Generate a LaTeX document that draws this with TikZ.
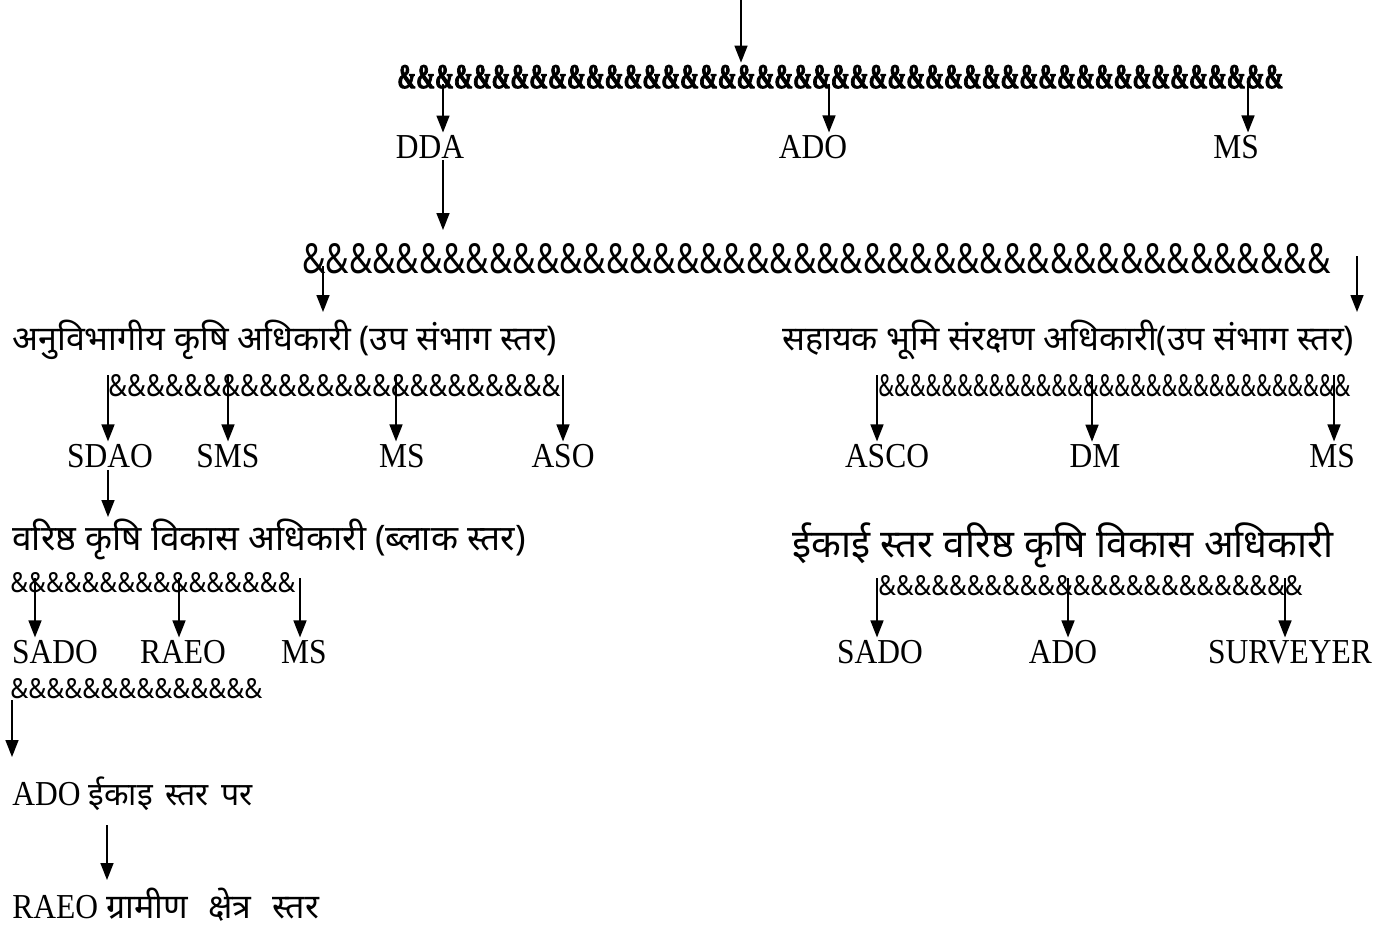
\documentclass[tikz,border=0pt]{standalone}
\usepackage{fontspec}
\usepackage{graphicx}
\setmainfont{Liberation Serif}[FakeStretch=0.9]
\newfontfamily\hindi[Script=Devanagari]{Noto Sans}
\newfontfamily\ampbold{Liberation Serif}[BoldFeatures={FakeBold=3}]
\usetikzlibrary{arrows.meta}
% a row of ampersands squeezed to a given width and height
\newcommand\amprow[4][]{\resizebox{#2}{#3}{#1\foreach\i in {1,...,#4}{\&}}}
\begin{document}
\begin{tikzpicture}[x=0.5pt,y=-0.5pt,line join=round,>={Triangle[length=8.5pt,width=6.5pt]}]
	\tikzset{arr/.style={->,line width=0.75pt},
		lab/.style={inner sep=1pt,anchor=base,font=\fontsize{17.5}{20}\selectfont},
		hin/.style={inner sep=1pt,anchor=base west,font=\fontsize{17}{20}\hindi},
		amp/.style={inner sep=0pt,anchor=base west}}
	\useasboundingbox[fill=white] (0,0) rectangle (1396,928);
	% first level
	\coordinate (top) at (741,0);
	\node[amp] (r1) at (397,88) {\amprow[\ampbold\bfseries]{443pt}{11.5pt}{47}};
	\draw[arr] (top) -- ([yshift=1pt]top |- r1.north);
	\node[lab] (dda) at (430,158) {DDA};
	\node[lab] (ado) at (813,158) {ADO};
	\node[lab] (ms1) at (1236,158) {MS};
	\foreach \x/\n in {443/dda,829/ado,1248/ms1}
	{\coordinate (s\n) at (\x,84); \draw[arr] (s\n) -- (s\n |- \n.north);}
	% second level
	\node[amp] (r2) at (302,273) {\amprow[\hindi]{514pt}{15pt}{44}};
	\coordinate (d1) at (443,230);
	\draw[arr] (dda.south -| d1) -- (d1);
	\node[hin] (sdo) at (10,350) {अनुविभागीय कृषि अधिकारी (उप संभाग स्तर)};
	\node[hin] (sco) at (780,350) {सहायक भूमि संरक्षण अधिकारी(उप संभाग स्तर)};
	\coordinate (e1) at (323,312);
	\coordinate (e2) at (1357,312);
	\draw[arr] (e1 |- 0,266) -- (e1);
	\draw[arr] (e2 |- 0,256) -- (e2);
	% third level
	\node[amp] (r3) at (108,396) {\amprow[\hindi]{226pt}{11pt}{24}};
	\node[amp] (r4) at (878,396) {\amprow[\hindi]{236pt}{11pt}{30}};
	\node[lab] (sdao) at (110,467) {SDAO};
	\node[lab] (sms) at (228,467) {SMS};
	\node[lab] (ms2) at (402,467) {MS};
	\node[lab] (aso) at (563,467) {ASO};
	\node[lab] (asco) at (887,467) {ASCO};
	\node[lab] (dm) at (1095,467) {DM};
	\node[lab] (ms3) at (1332,467) {MS};
	\foreach \x/\n in {108/sdao,228/sms,396/ms2,563/aso,877/asco,1092/dm,1334/ms3}
	{\coordinate (s\n) at (\x,375); \draw[arr] (s\n) -- (s\n |- \n.north);}
	% fourth level
	\coordinate (d2) at (108,517);
	\draw[arr] (sdao.south -| d2) -- (d2);
	\node[hin,font=\fontsize{17.6}{20}\hindi] (sado) at (10,550) {वरिष्ठ कृषि विकास अधिकारी (ब्लाक स्तर)};
	\node[hin,font=\fontsize{19.4}{22}\hindi] (ikai) at (790,557) {ईकाई स्तर वरिष्ठ कृषि विकास अधिकारी};
	\node[amp] (r5) at (10,592) {\amprow[\hindi]{142.5pt}{10pt}{16}};
	\node[amp] (r6) at (878,595) {\amprow[\hindi]{212pt}{10pt}{24}};
	\node[lab] (sado1) at (55,663) {SADO};
	\node[lab] (raeo1) at (183,663) {RAEO};
	\node[lab] (ms4) at (304,663) {MS};
	\node[lab] (sado2) at (880,663) {SADO};
	\node[lab] (ado2) at (1063,663) {ADO};
	\node[lab] (surv) at (1290,663) {SURVEYER};
	\foreach \x/\n in {35/sado1,179/raeo1,300/ms4,877/sado2,1068/ado2,1285/surv}
	{\coordinate (s\n) at (\x,578); \draw[arr] (s\n) -- (s\n |- \n.north);}
	% lowest levels
	\node[amp] (r7) at (10,698) {\amprow[\hindi]{126pt}{10pt}{14}};
	\node[inner sep=1pt,anchor=base west,font=\fontsize{17.5}{20}\selectfont] (adoi) at (10,805) {ADO {\fontsize{16}{20}\hindi ईकाइ\hspace{2pt} स्तर\hspace{2pt} पर}};
	\node[inner sep=1pt,anchor=base west,font=\fontsize{17.5}{20}\selectfont] (raeog) at (10,918) {RAEO {\fontsize{17}{20}\hindi ग्रामीण\hspace{6pt} क्षेत्र\hspace{6pt} स्तर}};
	\coordinate (d3) at (12,757);
	\coordinate (d4) at (107,880);
	\draw[arr] (d3 |- 0,700) -- (d3);
	\draw[arr] (d4 |- 0,825) -- (d4);
\end{tikzpicture}
\end{document}
